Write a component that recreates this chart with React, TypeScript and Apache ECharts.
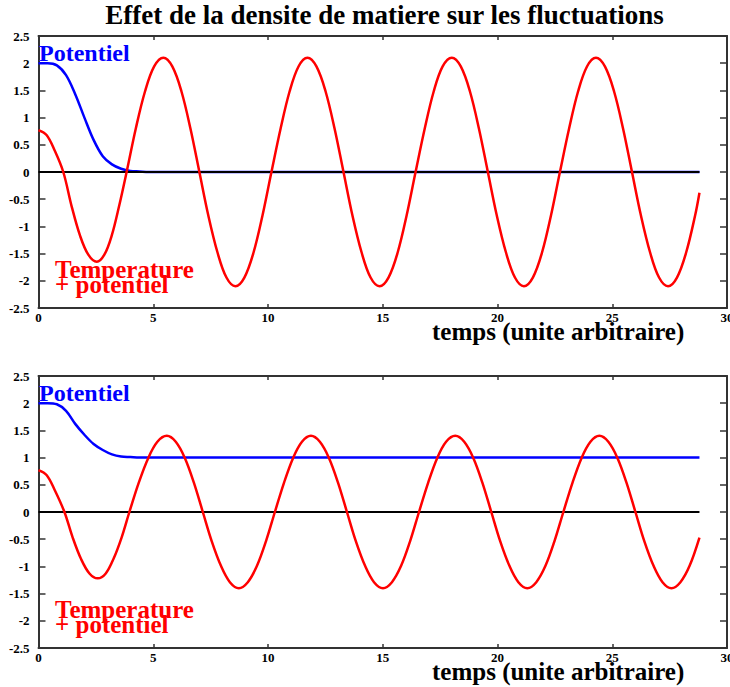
import React, { useEffect, useRef } from "react";
import * as echarts from "echarts";

// Top panel: "Temperature + potentiel" (read at extrema, zero crossings and points between)
const topRedTimes = [
  0, 0.35, 0.7, 1.08, 1.45, 1.81, 2.17, 2.54, 2.87, 3.19, 3.51, 3.84, 4.24, 4.64, 5.04,
  5.44, 5.83, 6.23, 6.62, 7.01, 7.4, 7.8, 8.19, 8.58, 8.97, 9.37, 9.76, 10.15, 10.55, 10.94, 11.33,
  11.72, 12.11, 12.51, 12.9, 13.29, 13.68, 14.08, 14.47, 14.86, 15.25, 15.65, 16.04, 16.43, 16.83, 17.22, 17.61,
  18.01, 18.4, 18.8, 19.19, 19.58, 19.97, 20.37, 20.76, 21.15, 21.54, 21.94, 22.33, 22.72, 23.12, 23.51, 23.9,
  24.29, 24.68, 25.08, 25.47, 25.86, 26.25, 26.65, 27.04, 27.43, 27.82, 28.22, 28.61, 28.8,
];
const topRed = [
  0.77, 0.68, 0.4, 0, -0.64, -1.17, -1.52, -1.65, -1.52, -1.17, -0.63, 0, 0.8, 1.48, 1.94,
  2.1, 1.94, 1.48, 0.8, 0, -0.8, -1.48, -1.94, -2.1, -1.94, -1.48, -0.8, 0, 0.8, 1.48, 1.94,
  2.1, 1.94, 1.48, 0.8, 0, -0.8, -1.48, -1.94, -2.1, -1.94, -1.48, -0.8, 0, 0.8, 1.48, 1.94,
  2.1, 1.94, 1.48, 0.8, 0, -0.8, -1.48, -1.94, -2.1, -1.94, -1.48, -0.8, 0, 0.8, 1.48, 1.94,
  2.1, 1.94, 1.48, 0.8, 0, -0.8, -1.48, -1.94, -2.1, -1.94, -1.48, -0.8, -0.38,
];

// Bottom panel
const bottomRedTimes = [
  0, 0.35, 0.7, 1.13, 1.49, 1.85, 2.22, 2.58, 2.93, 3.27, 3.62, 3.96, 4.37, 4.78, 5.18,
  5.59, 5.98, 6.38, 6.77, 7.16, 7.55, 7.95, 8.34, 8.73, 9.12, 9.52, 9.91, 10.3, 10.7, 11.09, 11.48,
  11.87, 12.26, 12.66, 13.05, 13.44, 13.83, 14.23, 14.62, 15.01, 15.4, 15.8, 16.19, 16.58, 16.98, 17.37, 17.76,
  18.16, 18.55, 18.95, 19.34, 19.73, 20.12, 20.52, 20.91, 21.3, 21.69, 22.09, 22.48, 22.87, 23.27, 23.66, 24.05,
  24.44, 24.83, 25.23, 25.62, 26.01, 26.4, 26.8, 27.19, 27.58, 27.97, 28.37, 28.8,
];
const bottomRed = [
  0.77, 0.68, 0.41, 0, -0.47, -0.86, -1.13, -1.22, -1.13, -0.86, -0.47, 0, 0.54, 0.99, 1.29,
  1.4, 1.29, 0.99, 0.54, 0, -0.54, -0.99, -1.29, -1.4, -1.29, -0.99, -0.54, 0, 0.54, 0.99, 1.29,
  1.4, 1.29, 0.99, 0.54, 0, -0.54, -0.99, -1.29, -1.4, -1.29, -0.99, -0.54, 0, 0.54, 0.99, 1.29,
  1.4, 1.29, 0.99, 0.54, 0, -0.54, -0.99, -1.29, -1.4, -1.29, -0.99, -0.54, 0, 0.54, 0.99, 1.29,
  1.4, 1.29, 0.99, 0.54, 0, -0.54, -0.99, -1.29, -1.4, -1.29, -0.99, -0.47,
];

// "Potentiel" curves
const potTimes = [0, 0.4, 0.8, 1.2, 1.6, 2.0, 2.4, 2.8, 3.2, 3.6, 4.0, 4.4, 4.8, 5.2, 28.8];
const topBlue = [2.0, 2.0, 1.96, 1.78, 1.43, 1.0, 0.59, 0.29, 0.14, 0.06, 0.02, 0.01, 0, 0, 0];
const bottomBlue = [2.0, 2.0, 1.98, 1.86, 1.62, 1.42, 1.25, 1.14, 1.06, 1.02, 1.01, 1.0, 1.0, 1.0, 1.0];

// zero reference line
const zeroTimes = [0, 28.8];
const zeroVals = [0, 0];

const TITLE = "Effet de la densite de matiere sur les fluctuations";
const X_NAME = "temps (unite arbitraire)";

const FONT = '"Liberation Serif", "Times New Roman", serif';

const pairs = (xs: number[], ys: number[]) => xs.map((x, i) => [x, ys[i]]);

export default function App() {
  const ref = useRef<HTMLDivElement>(null);

  useEffect(() => {
    if (!ref.current) return;
    const chart = echarts.init(ref.current, null, { renderer: "svg", width: 730, height: 687 });

    const axisLine = { show: true, onZero: false, lineStyle: { color: "#333", width: 2 } };
    const labelStyle = { fontFamily: FONT, fontWeight: "bold" as const, fontSize: 13, color: "#000" };
    const tick = (len: number) => ({ inside: true, length: len, lineStyle: { color: "#333", width: 1.5 } });

    const grids = [
      { left: 38.5, right: 3, top: 36, height: 272, outerBoundsMode: "none", containLabel: false },
      { left: 38.5, right: 3, top: 376, height: 272, outerBoundsMode: "none", containLabel: false },
    ];

    const xAxis: any[] = [];
    const yAxis: any[] = [];
    grids.forEach((_, i) => {
      xAxis.push({
        type: "value", gridIndex: i, min: 0, max: 30, interval: 5, position: "bottom",
        axisLine, axisTick: tick(4),
        axisLabel: { ...labelStyle, margin: 3, showMaxLabel: true },
        splitLine: { show: false },
      });
      xAxis.push({
        type: "value", gridIndex: i, min: 0, max: 30, interval: 5, position: "top",
        axisLine, axisTick: tick(4), axisLabel: { show: false }, splitLine: { show: false },
      });
      yAxis.push({
        type: "value", gridIndex: i, min: -2.5, max: 2.5, interval: 0.5, position: "left",
        axisLine, axisTick: tick(7), axisLabel: { ...labelStyle, margin: 9 }, splitLine: { show: false },
      });
      yAxis.push({
        type: "value", gridIndex: i, min: -2.5, max: 2.5, interval: 0.5, position: "right",
        axisLine, axisTick: tick(7), axisLabel: { show: false }, splitLine: { show: false },
      });
    });

    const line = (data: number[][], color: string, width: number, g: number, z: number) => ({
      type: "line", xAxisIndex: 2 * g, yAxisIndex: 2 * g, data, showSymbol: false, symbol: "none",
      smooth: 0.35, z, lineStyle: { color, width }, silent: true,
    });

    const series = [
      line(pairs(potTimes, topBlue), "#0000ff", 2.5, 0, 2),
      line(pairs(zeroTimes, zeroVals), "#000000", 2, 0, 3),
      line(pairs(topRedTimes, topRed), "#ff0000", 2.5, 0, 4),
      line(pairs(zeroTimes, zeroVals), "#000000", 2, 1, 2),
      line(pairs(potTimes, bottomBlue), "#0000ff", 2.5, 1, 3),
      line(pairs(bottomRedTimes, bottomRed), "#ff0000", 2.5, 1, 4),
    ];

    const txt = (text: string, x: number, y: number, color: string, size: number, align = "left") => ({
      type: "text", x, y, z: 10,
      style: { text, fill: color, fontFamily: FONT, fontWeight: "bold", fontSize: size, align, verticalAlign: "middle" },
    });

    const graphic = [
      txt(TITLE, 384.5, 15, "#000", 27, "center"),
      txt("Potentiel", 39, 53, "#0000ff", 24),
      txt("Temperature", 55, 269, "#ff0000", 25),
      txt("+ potentiel", 55, 284, "#ff0000", 25),
      txt(X_NAME, 432, 331, "#000", 25),
      txt("Potentiel", 39, 393, "#0000ff", 24),
      txt("Temperature", 55, 609, "#ff0000", 25),
      txt("+ potentiel", 55, 624, "#ff0000", 25),
      txt(X_NAME, 432, 671, "#000", 25),
    ];

    chart.setOption({ animation: false, grid: grids, xAxis, yAxis, series, graphic });
    return () => chart.dispose();
  }, []);

  return (
    <div
      ref={ref}
      style={{ position: "fixed", left: 0, top: 0, width: 730, height: 687, background: "#fff" }}
    />
  );
}
